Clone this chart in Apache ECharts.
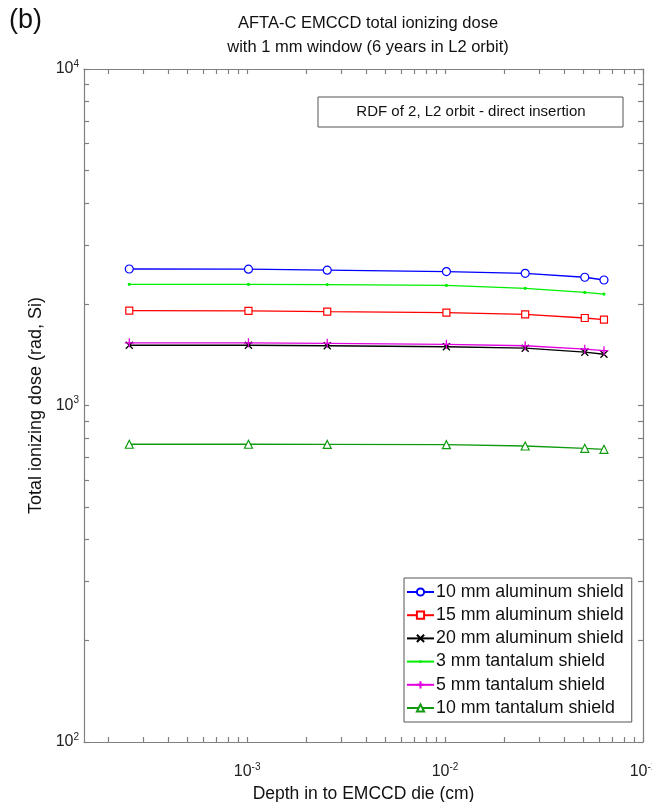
<!DOCTYPE html>
<html>
<head>
<meta charset="utf-8">
<script src="https://cdn.jsdelivr.net/npm/echarts@6/dist/echarts.min.js"></script>
<style>html,body{margin:0;padding:0;background:#fff;overflow:hidden}#c{width:652px;height:802px}</style>
</head>
<body>
<div id="c"></div>
<script>
// Depth into EMCCD die (cm)
const depth = [2.54e-4, 1.016e-3, 2.54e-3, 1.016e-2, 2.54e-2, 5.08e-2, 6.35e-2];
// Total ionizing dose (rad, Si)
const al10 = [2545, 2542, 2525, 2500, 2470, 2405, 2360];
const al15 = [1913, 1910, 1900, 1887, 1866, 1820, 1800];
const al20 = [1510, 1510, 1505, 1495, 1480, 1440, 1420];
const ta3  = [2292, 2290, 2288, 2275, 2230, 2168, 2143];
const ta5  = [1535, 1535, 1530, 1520, 1505, 1470, 1455];
const ta10 = [767, 767, 766, 765, 758, 746, 741];
const seriesNames = ['10 mm aluminum shield','15 mm aluminum shield','20 mm aluminum shield','3 mm tantalum shield','5 mm tantalum shield','10 mm tantalum shield'];
const xLabelTicks = [1e-3, 1e-2, 1e-1];
const yLabelTicks = [100, 1000, 10000];

function minorLog(lo, hi) {
  const out = [];
  for (let e = lo; e < hi; e++) for (let m = 1; m <= 9; m++) out.push(m * Math.pow(10, e));
  out.push(Math.pow(10, hi));
  return out;
}
const xTicks = minorLog(-4, -1).filter(v => v >= 1.5e-4 && v <= 0.1);
const yTicks = minorLog(2, 4);

const FONT = 'Liberation Sans, Arial, sans-serif';
function powLabel(v) {
  const e = Math.round(Math.log10(v));
  return '{b|10}{s|' + e + '}';
}
const richLab = {
  b: {fontSize: 16, fontFamily: FONT, color: '#222'},
  s: {fontSize: 10, fontFamily: FONT, color: '#222', verticalAlign: 'top', padding: [0,0,10,0]}
};

const DOT = 'path://M0,0L0.01,0M10,10L10.01,10M3,5a2,2 0 1,0 4,0a2,2 0 1,0 -4,0Z';
const styles = [
  {color: '#0000ff', symbol: 'circle', size: 8, hollow: true, bw: 1.2},
  {color: '#ff0000', symbol: 'rect', size: 7, hollow: true, bw: 1.2},
  {color: '#000000', symbol: 'path://M0,0L10,10M10,0L0,10', size: 7, hollow: false, bw: 1.3},
  {color: '#00ee00', symbol: DOT, size: 8, hollow: false, bw: 0},
  {color: '#e000e0', symbol: 'path://M5,0L5,10M0,5L10,5', size: 9, hollow: false, bw: 1.3},
  {color: '#109a10', symbol: 'triangle', size: 8, hollow: true, bw: 1.2}
];
const values = [al10, al15, al20, ta3, ta5, ta10];

const series = values.map((vals, i) => {
  const st = styles[i];
  return {
    name: seriesNames[i],
    type: 'line',
    data: depth.map((d, j) => [d, vals[j]]),
    symbol: st.symbol,
    symbolSize: st.size,
    showAllSymbol: true,
    lineStyle: {color: st.color, width: 1.3},
    itemStyle: {
      color: st.hollow ? '#ffffff' : st.color,
      borderColor: st.color,
      borderWidth: st.bw
    },
    emphasis: {disabled: true},
    animation: false
  };
});

const axisLineStyle = {color: '#808080', width: 1.2};
const chart = echarts.init(document.getElementById('c'), null, {renderer: 'canvas'});
chart.setOption({
  animation: false,
  backgroundColor: '#ffffff',
  title: {
    text: 'AFTA-C EMCCD total ionizing dose\nwith 1 mm window (6 years in L2 orbit)',
    left: 363, top: 6, textAlign: 'center',
    textStyle: {fontSize: 16.5, fontWeight: 'normal', fontFamily: FONT, color: '#111', lineHeight: 24}
  },
  graphic: [
    {type: 'text', left: 9, top: 7, style: {text: '(b)', fontSize: 27, fontFamily: FONT, fill: '#111'}},
    {type: 'rect', shape: {x: 318, y: 97, width: 305, height: 30}, style: {fill: '#fff', stroke: '#555', lineWidth: 1}, z: 10},
    {type: 'text', x: 471, y: 112, style: {text: 'RDF of 2, L2 orbit - direct insertion', fontSize: 15, fontFamily: FONT, fill: '#111', align: 'center', verticalAlign: 'middle'}, z: 11}
  ],
  grid: {left: 84, right: 9, top: 69, bottom: 60, containLabel: false, outerBoundsMode: 'none'},
  legend: {
    orient: 'vertical',
    left: 404, top: 578,
    itemWidth: 27, itemHeight: 9, itemGap: 5.2,
    padding: [5, 8, 5, 2],
    backgroundColor: '#ffffff',
    borderColor: '#555', borderWidth: 1,
    textStyle: {fontSize: 17.8, fontFamily: FONT, color: '#111', lineHeight: 18, padding: [0,0,0,-3]},
    data: seriesNames,
    z: 20
  },
  xAxis: [{
    type: 'log', logBase: 10, min: 1.5e-4, max: 0.1,
    name: 'Depth in to EMCCD die (cm)', nameLocation: 'middle', nameGap: 40,
    nameTextStyle: {fontSize: 17.5, fontFamily: FONT, color: '#111'},
    axisLine: {show: true, lineStyle: axisLineStyle},
    axisTick: {show: true, inside: true, length: 5, customValues: xTicks, lineStyle: axisLineStyle},
    axisLabel: {customValues: xLabelTicks, formatter: powLabel, rich: richLab, margin: 20, showMaxLabel: true, hideOverlap: false},
    splitLine: {show: false}
  }, {
    type: 'log', logBase: 10, min: 1.5e-4, max: 0.1, position: 'top',
    axisLine: {show: true, lineStyle: axisLineStyle},
    axisTick: {show: true, inside: true, length: 5, customValues: xTicks, lineStyle: axisLineStyle},
    axisLabel: {show: false}, splitLine: {show: false}
  }],
  yAxis: [{
    type: 'log', logBase: 10, min: 100, max: 10000,
    name: 'Total ionizing dose (rad, Si)', nameLocation: 'middle', nameGap: 38, nameRotate: 90,
    nameTextStyle: {fontSize: 18, fontFamily: FONT, color: '#111'},
    axisLine: {show: true, lineStyle: axisLineStyle},
    axisTick: {show: true, inside: true, length: 5, customValues: yTicks, lineStyle: axisLineStyle},
    axisLabel: {customValues: yLabelTicks, formatter: powLabel, rich: richLab, margin: 5},
    splitLine: {show: false}
  }, {
    type: 'log', logBase: 10, min: 100, max: 10000, position: 'right',
    axisLine: {show: true, lineStyle: axisLineStyle},
    axisTick: {show: true, inside: true, length: 5, customValues: yTicks, lineStyle: axisLineStyle},
    axisLabel: {show: false}, splitLine: {show: false}
  }],
  series: series
});
</script>
</body>
</html>
